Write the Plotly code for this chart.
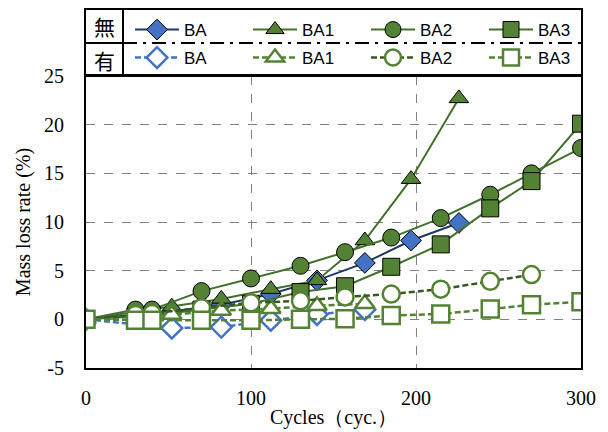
import plotly.graph_objects as go

# ---- data ----
x_ba = [0, 52, 82, 112, 140, 169, 197, 226]
ba_none = [0, 0.8, 1.5, 2.6, 4.0, 5.8, 8.1, 9.9]
ba1_none = [0, 1.3, 2.1, 3.1, 4.0, 8.1, 14.4, 22.7]
x_ba_with = [0, 52, 82, 112, 140, 169]
ba_with = [0, -0.9, -0.8, -0.1, 0.5, 1.0]
ba1_with = [0, 0.5, 0.9, 1.1, 1.4, 1.6]

x_b23 = [0, 30, 40, 70, 100, 130, 157, 185, 215, 245, 270, 300]
ba2_none = [0, 1.0, 1.0, 2.9, 4.2, 5.5, 6.9, 8.4, 10.4, 12.8, 15.0, 17.6]
ba3_none = [0, 0.3, 0.4, 1.0, 1.6, 2.8, 3.4, 5.4, 7.7, 11.4, 14.2, 20.1]
x_ba2_with = [0, 30, 40, 70, 100, 130, 157, 185, 215, 245, 270]
ba2_with = [0, 0.5, 0.6, 1.2, 1.7, 1.9, 2.3, 2.6, 3.1, 3.9, 4.6]
ba3_with = [0, -0.1, -0.1, -0.1, -0.1, 0.0, 0.05, 0.4, 0.55, 1.05, 1.5, 1.8]

names = ["BA", "BA1", "BA2", "BA3"]
x_ticks = [0, 100, 200, 300]
y_ticks = [-5, 0, 5, 10, 15, 20, 25]

GREEN = "#548235"
GREEN_LINE = "#43702c"
DARK_GREEN = "#385723"
BLUE = "#4472C4"
NAVY = "#203864"

fig = go.Figure()

def none_trace(x, y, name, symbol, fill, line_color):
    fig.add_trace(go.Scatter(
        x=x, y=y, name=name, mode="lines+markers", legend="legend",
        line=dict(color=line_color, width=2),
        marker=dict(symbol=symbol, size=17 if symbol != "diamond" else 16,
                    color=fill, line=dict(color="black", width=1)),
    ))

def with_trace(x, y, name, symbol, edge, line_color):
    fig.add_trace(go.Scatter(
        x=x, y=y, name=name, mode="lines+markers", legend="legend2",
        line=dict(color=line_color, width=2.5, dash="6px,3px"),
        marker=dict(symbol=symbol, size=17 if symbol != "diamond" else 16,
                    color="white", line=dict(color=edge, width=2.5)),
    ))

none_trace(x_ba, ba_none, names[0], "diamond", BLUE, NAVY)
none_trace(x_ba, ba1_none, names[1], "triangle-up", GREEN, GREEN_LINE)
none_trace(x_b23, ba2_none, names[2], "circle", GREEN, GREEN_LINE)
none_trace(x_b23, ba3_none, names[3], "square", GREEN, GREEN_LINE)

with_trace(x_ba_with, ba_with, names[0], "diamond", BLUE, BLUE)
with_trace(x_ba_with, ba1_with, names[1], "triangle-up", GREEN, GREEN)
with_trace(x_ba2_with, ba2_with, names[2], "circle", GREEN, DARK_GREEN)
with_trace(x_b23, ba3_with, names[3], "square", GREEN, GREEN)

serif = "Liberation Serif, Times New Roman, serif"
leg_font = dict(family="Liberation Sans, Arial, sans-serif", size=17, color="black")

# plot area: px x 86..581, y 76..368
def py(p):
    return (368 - p) / 292.0
def px(p):
    return (p - 86) / 495.0

shapes = [
    dict(type="rect", xref="paper", yref="paper", x0=px(85), x1=px(582), y0=py(76), y1=py(9),
         line=dict(color="black", width=2), fillcolor="rgba(0,0,0,0)"),
    dict(type="line", xref="paper", yref="paper", x0=px(123), x1=px(123), y0=py(76), y1=py(9),
         line=dict(color="black", width=2)),
    dict(type="line", xref="paper", yref="paper", x0=px(85), x1=px(123), y0=py(43), y1=py(43),
         line=dict(color="black", width=2)),
    dict(type="line", xref="paper", yref="paper", x0=px(123), x1=px(586), y0=py(43), y1=py(43),
         line=dict(color="black", width=2, dash="14px,6px,3px,6px")),
]

annotations = [
    dict(text="無", xref="paper", yref="paper", x=px(104), y=py(26), showarrow=False,
         xanchor="center", yanchor="middle",
         font=dict(family="Noto Sans CJK JP", size=21, color="black")),
    dict(text="有", xref="paper", yref="paper", x=px(104), y=py(60), showarrow=False,
         xanchor="center", yanchor="middle",
         font=dict(family="Noto Sans CJK JP", size=21, color="black")),
]

legend_common = dict(orientation="h", xanchor="left", yanchor="middle",
                     bgcolor="rgba(0,0,0,0)", borderwidth=0, font=leg_font,
                     entrywidth=59, entrywidthmode="pixels", itemwidth=44,
                     itemclick=False, itemdoubleclick=False, tracegroupgap=0)

fig.update_layout(
    width=608, height=432,
    margin=dict(l=86, r=27, t=76, b=64, autoexpand=False),
    paper_bgcolor="white", plot_bgcolor="white",
    showlegend=True,
    legend=dict(x=px(130), y=py(30), **legend_common),
    legend2=dict(x=px(130), y=py(58), **legend_common),
    shapes=shapes,
    annotations=annotations,
    xaxis=dict(range=[0, 300], tickvals=x_ticks, ticktext=[str(v) for v in x_ticks],
               showgrid=True, gridcolor="#808080", griddash="dash", gridwidth=1,
               zeroline=False, showline=True, linecolor="black", linewidth=2, mirror=True,
               ticks="", ticklabelstandoff=11, automargin=False,
               tickfont=dict(family=serif, size=20, color="black"),
               title=dict(text="Cycles（cyc.）", standoff=2,
                          font=dict(family=serif, size=20, color="black"))),
    yaxis=dict(range=[-5, 25], tickvals=y_ticks, ticktext=[str(v) for v in y_ticks],
               showgrid=True, gridcolor="#808080", griddash="dash", gridwidth=1,
               zeroline=False, showline=True, linecolor="black", linewidth=2, mirror=True,
               ticks="", ticklabelstandoff=16, automargin=False,
               tickfont=dict(family=serif, size=20, color="black"),
               title=dict(text="Mass loss rate (%)", standoff=8,
                          font=dict(family=serif, size=20, color="black"))),
)

fig.write_html("out.html")
